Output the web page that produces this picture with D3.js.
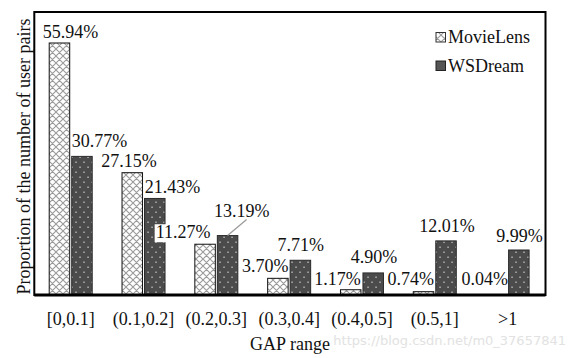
<!DOCTYPE html>
<html><head><meta charset="utf-8">
<script src="https://cdn.jsdelivr.net/npm/d3@7"></script>
<style>
html,body{margin:0;padding:0;background:#fff;}
svg{display:block;}
</style></head>
<body>
<svg id="chart" width="572" height="358"></svg>
<script>
// ---- data ----
const categories = ["[0,0.1]","(0.1,0.2]","(0.2,0.3]","(0.3,0.4]","(0.4,0.5]","(0.5,1]",">1"];
const seriesNames = ["MovieLens","WSDream"];
const movieLens = [55.94,27.15,11.27,3.70,1.17,0.74,0.04];
const wsDream   = [30.77,21.43,13.19,7.71,4.90,12.01,9.99];
const yAxisTitle = "Proportion of the number of user pairs";
const xAxisTitle = "GAP range";

// ---- layout (label nudges, relative to bar centre / top) ----
const mlLabelDx = [11,-3.3,-22,-12.6,-13.2,-12.8,-11.6];
const mlLabelDy = [-5,-6,-6,-6.6,-4.7,-6.7,-9.8];
const wsLabelDx = [17.5,17.7,14.1,0.3,0.8,1,0.7];
const wsLabelDy = [-9.7,-5.2,-18.9,-9.3,-9.6,-9.2,-8.3];

const SERIF = "'Liberation Serif', 'Times New Roman', Times, 'DejaVu Serif', serif";
const svg = d3.select("#chart").attr("font-family", SERIF).style("font-family", SERIF);
const L = 34.3, R = 544, T = 12, B = 295;
const x = d3.scaleBand().domain(categories).range([L, R]).padding(0);
const y = d3.scaleLinear().domain([0, 62.82]).range([B, T]);
const barW = 20.5, gap = 1;

const defs = svg.append("defs");
const ph = defs.append("pattern").attr("id","hatch").attr("patternUnits","userSpaceOnUse")
  .attr("width",7).attr("height",7);
ph.append("rect").attr("width",7).attr("height",7).attr("fill","#fff");
ph.append("path").attr("d","M0,0 L7,7 M7,0 L0,7 M-1,6 L1,8 M6,-1 L8,1 M-1,1 L1,-1 M6,8 L8,6")
  .attr("stroke","#9a9a9a").attr("stroke-width",1.1);
const pd = defs.append("pattern").attr("id","dots").attr("patternUnits","userSpaceOnUse")
  .attr("width",8).attr("height",10);
pd.append("rect").attr("width",8).attr("height",10).attr("fill","#4b4b4b");
pd.append("rect").attr("x",3.3).attr("y",1.5).attr("width",1.5).attr("height",1.5).attr("fill","#b0b0b0");
pd.append("rect").attr("x",-0.7).attr("y",6.5).attr("width",1.5).attr("height",1.5).attr("fill","#b0b0b0");
pd.append("rect").attr("x",7.3).attr("y",6.5).attr("width",1.5).attr("height",1.5).attr("fill","#b0b0b0");

const cx = c => x(c) + x.bandwidth()/2;
const mlCx = (c) => cx(c) - gap - barW/2;
const wsCx = (c) => cx(c) + gap + barW/2;

// bars
svg.append("g").selectAll("rect").data(categories).join("rect")
  .attr("x", c => cx(c) - gap - barW).attr("y", (c,i) => y(movieLens[i]))
  .attr("width", barW).attr("height", (c,i) => B - y(movieLens[i]))
  .attr("fill","url(#hatch)").attr("stroke","#111").attr("stroke-width",1);
svg.append("g").selectAll("rect").data(categories).join("rect")
  .attr("x", c => cx(c) + gap).attr("y", (c,i) => y(wsDream[i]))
  .attr("width", barW).attr("height", (c,i) => B - y(wsDream[i]))
  .attr("fill","url(#dots)").attr("stroke","#2a2a2a").attr("stroke-width",1);

// leader line for WSDream (0.2,0.3]
svg.append("line")
  .attr("x1", wsCx(categories[2])).attr("y1", y(wsDream[2]))
  .attr("x2", wsCx(categories[2]) + 19).attr("y2", y(wsDream[2]) - 16)
  .attr("stroke","#9a9a9a").attr("stroke-width",1.2);

const fs = 18;
function T_(sel){ return sel.attr("font-family", SERIF).style("font-family", SERIF).attr("font-size", fs).attr("fill","#111"); }
// labels ML
const mlG = svg.append("g");
categories.forEach((c,i) => {
  const tx = mlCx(c) + mlLabelDx[i], ty = y(movieLens[i]) + mlLabelDy[i];
  const t = T_(mlG.append("text")).attr("x", tx).attr("y", ty).attr("text-anchor","middle")
    .text(movieLens[i].toFixed(2) + "%");
  if (i === 2) {
    const bb = t.node().getBBox();
    mlG.insert("rect", "text:last-child").attr("x", bb.x - 1).attr("y", bb.y + 2)
      .attr("width", bb.width + 2).attr("height", bb.height - 2).attr("fill","#fff");
  }
});
const wsG = svg.append("g");
categories.forEach((c,i) => {
  T_(wsG.append("text")).attr("x", wsCx(c) + wsLabelDx[i]).attr("y", y(wsDream[i]) + wsLabelDy[i])
    .attr("text-anchor","middle").text(wsDream[i].toFixed(2) + "%");
});

// frame
svg.append("rect").attr("x", L).attr("y", T).attr("width", 545.5 - L).attr("height", B - T)
  .attr("fill","none").attr("stroke","#000").attr("stroke-width",2);
svg.append("line").attr("x1", L).attr("x2", 545.5).attr("y1", B).attr("y2", B)
  .attr("stroke","#000").attr("stroke-width",3);

// x axis labels
const xAxis = d3.axisBottom(x).tickSize(0).tickPadding(0);
const gx = svg.append("g").attr("transform", `translate(0,${B})`).call(xAxis)
  .attr("font-family", SERIF);
gx.select(".domain").remove();
T_(gx.selectAll("text")).attr("dy", null).attr("y", 30);

// axis titles
T_(svg.append("text")).attr("x", 290).attr("y", 350).attr("text-anchor","middle").text(xAxisTitle);
T_(svg.append("text")).attr("transform","translate(30,156.5) rotate(-90)").attr("text-anchor","middle").text(yAxisTitle);

// legend
const lg = svg.append("g");
seriesNames.forEach((n,i) => {
  lg.append("rect").attr("x", 436).attr("y", 32.5 + i*28.5).attr("width", 9.5).attr("height", 9.5)
    .attr("fill", i === 0 ? "url(#hatch)" : "#555").attr("stroke", i === 0 ? "#333" : "#222").attr("stroke-width",1);
  T_(lg.append("text")).attr("x", 448).attr("y", 42.5 + i*29).text(n);
});

// watermark
svg.append("text").attr("x", 566).attr("y", 345).attr("text-anchor","end")
  .attr("font-family","'DejaVu Sans', sans-serif").style("font-family","'DejaVu Sans', sans-serif").attr("font-size", 13)
  .attr("fill","#e2e2e2").text("https://blog.csdn.net/m0_37657841");
</script>
</body></html>
